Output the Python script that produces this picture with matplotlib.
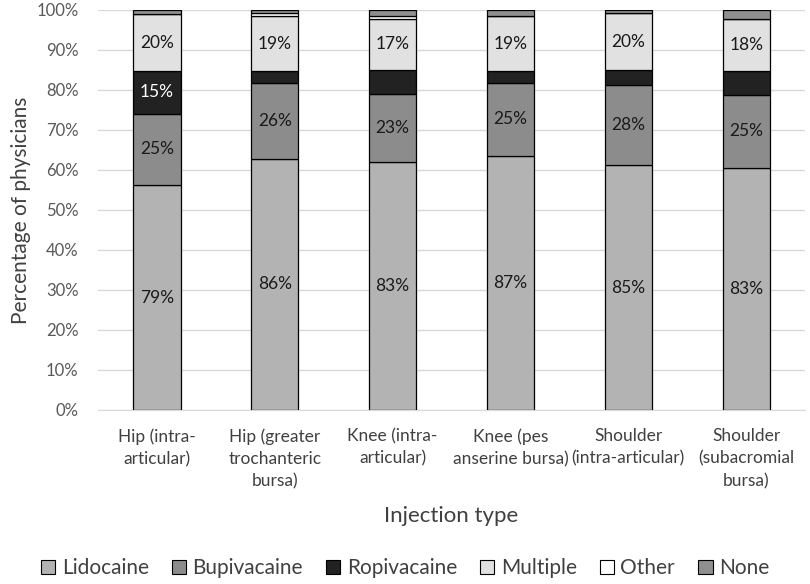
import matplotlib
matplotlib.use("Agg")
import matplotlib.pyplot as plt
import numpy as np
from matplotlib.patches import Patch

categories = ["Hip (intra-\narticular)", "Hip (greater\ntrochanteric\nbursa)", "Knee (intra-\narticular)",
              "Knee (pes\nanserine bursa)", "Shoulder\n(intra-articular)", "Shoulder\n(subacromial\nbursa)"]
lidocaine = [79, 86, 83, 87, 85, 83]
bupivacaine = [25, 26, 23, 25, 28, 25]
ropivacaine = [15, 4, 8, 4, 5, 8]
multiple = [20, 19, 17, 19, 20, 18]
other = [0, 1, 1, 0, 0, 0]
none = [1.5, 1, 2, 2, 1, 3]

series = [("Lidocaine", lidocaine, "#b3b3b3"),
          ("Bupivacaine", bupivacaine, "#8c8c8c"),
          ("Ropivacaine", ropivacaine, "#222222"),
          ("Multiple", multiple, "#e1e1e1"),
          ("Other", other, "#ffffff"),
          ("None", none, "#8f8f8f")]

plt.rcParams['font.family'] = ['Lato', 'DejaVu Sans']

fig = plt.figure(figsize=(8.1, 5.84), dpi=100)
ax = fig.add_axes([0.121, 0.298, 0.873, 0.685])

data = np.array([s[1] for s in series], dtype=float)
totals = data.sum(axis=0)
norm = data / totals * 100
x = np.arange(len(categories))
bottom = np.zeros(len(categories))
for i, (name, vals, col) in enumerate(series):
    h = norm[i]
    ax.bar(x, h, bottom=bottom, width=0.4, color=col, edgecolor="#000000", linewidth=0.9, zorder=3)
    for j in range(len(categories)):
        if vals[j] >= 15:
            tc = "white" if name == "Ropivacaine" else "#1a1a1a"
            ax.text(x[j], bottom[j] + h[j] / 2, f"{vals[j]}%", ha="center", va="center",
                    fontsize=12.5, color=tc, zorder=4)
    bottom += h

ax.set_ylim(0, 100)
ax.set_xlim(-0.5, len(categories) - 0.5)
ax.set_yticks(np.arange(0, 101, 10))
ax.set_yticklabels([f"{v}%" for v in range(0, 101, 10)])
ax.yaxis.grid(True, color="#d9d9d9", linewidth=1.0, zorder=0)
ax.set_xticks(x)
ax.set_xticklabels(categories, fontsize=12.5, color="#404040", linespacing=1.5)
ax.tick_params(axis="y", labelsize=12, colors="#595959", length=0, pad=14)
ax.tick_params(axis="x", length=0, pad=13)
for sp in ["top", "right", "left"]:
    ax.spines[sp].set_visible(False)
ax.spines["bottom"].set_color("#d9d9d9")
ax.set_ylabel("Percentage of physicians", fontsize=15, color="#404040", labelpad=4)
ax.set_xlabel("Injection type", fontsize=16, color="#404040", labelpad=12)

handles = [Patch(facecolor=c, edgecolor="#000000", linewidth=0.8) for _, _, c in series]
fig.legend(handles, [s[0] for s in series], loc="center", bbox_to_anchor=(0.5, 0.027), ncol=6,
           frameon=False, fontsize=15, handlelength=0.7, handleheight=0.7, handletextpad=0.3,
           columnspacing=1.1, labelcolor="#404040")

fig.savefig("out.png", dpi=100)
